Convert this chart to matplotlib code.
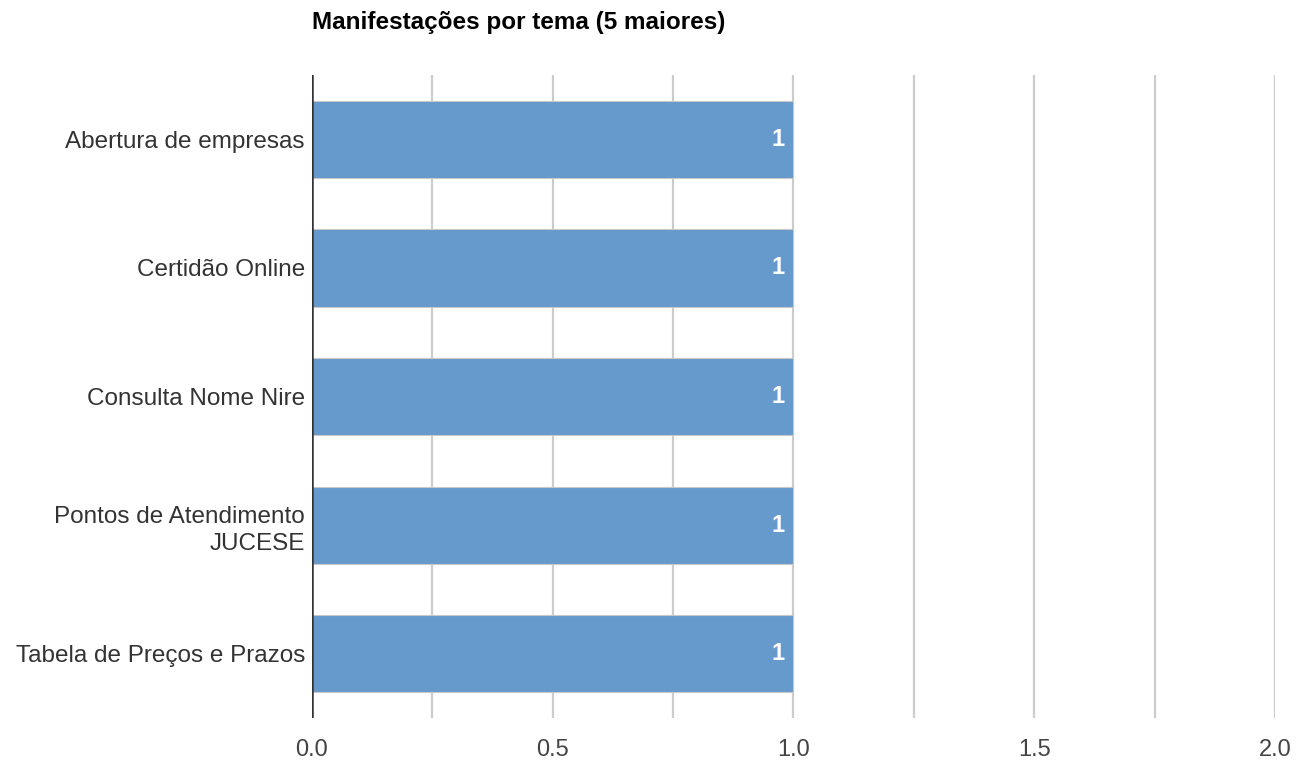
import matplotlib
matplotlib.use("Agg")
import matplotlib.pyplot as plt
import numpy as np

# --- data ---
categories = ["Abertura de empresas", "Certidão Online", "Consulta Nome Nire",
              "Pontos de Atendimento\nJUCESE", "Tabela de Preços e Prazos"]
values = [1, 1, 1, 1, 1]
xticks = [0.0, 0.5, 1.0, 1.5, 2.0]
title = "Manifestações por tema (5 maiores)"

plt.rcParams['font.family'] = ['Liberation Sans', 'DejaVu Sans']

fig = plt.figure(figsize=(12.97, 7.61), dpi=100)
ax = fig.add_axes([0.2405, 0.0565, 0.7425, 0.8449])

y = np.arange(len(categories))
bars = ax.barh(y, values, height=0.6, color='#6699cc', edgecolor='#c8c8c8',
               linewidth=0.8, zorder=3)

ax.set_ylim(len(categories) - 0.5, -0.5)
ax.set_xlim(0, 2)

# grid every 0.25, labels only at 0.5
for g in np.arange(0.25, 2.01, 0.25):
    ax.axvline(g, color='#cccccc', linewidth=1.6, zorder=1)
ax.axvline(0, color='#333333', linewidth=1.8, zorder=4)

ax.set_xticks(xticks)
ax.set_xticklabels([f"{t:.1f}" for t in xticks], fontsize=17, color='#444444')
ax.set_yticks(y)
ax.set_yticklabels(categories, fontsize=17.5, color='#333333', linespacing=1.3)
ax.tick_params(axis='both', length=0)
ax.tick_params(axis='x', pad=15)
ax.tick_params(axis='y', pad=5)

for s in ax.spines.values():
    s.set_visible(False)

for b, v in zip(bars, values):
    ax.text(b.get_width() - 0.018, b.get_y() + b.get_height() / 2, str(v),
            ha='right', va='center', color='white', fontsize=17,
            fontweight='bold', zorder=5)

fig.text(312 / 1297, 1 - 22 / 761, title, ha='left', va='center',
         fontsize=17.5, fontweight='bold', color='#000000')

fig.savefig("out.png", dpi=100)
